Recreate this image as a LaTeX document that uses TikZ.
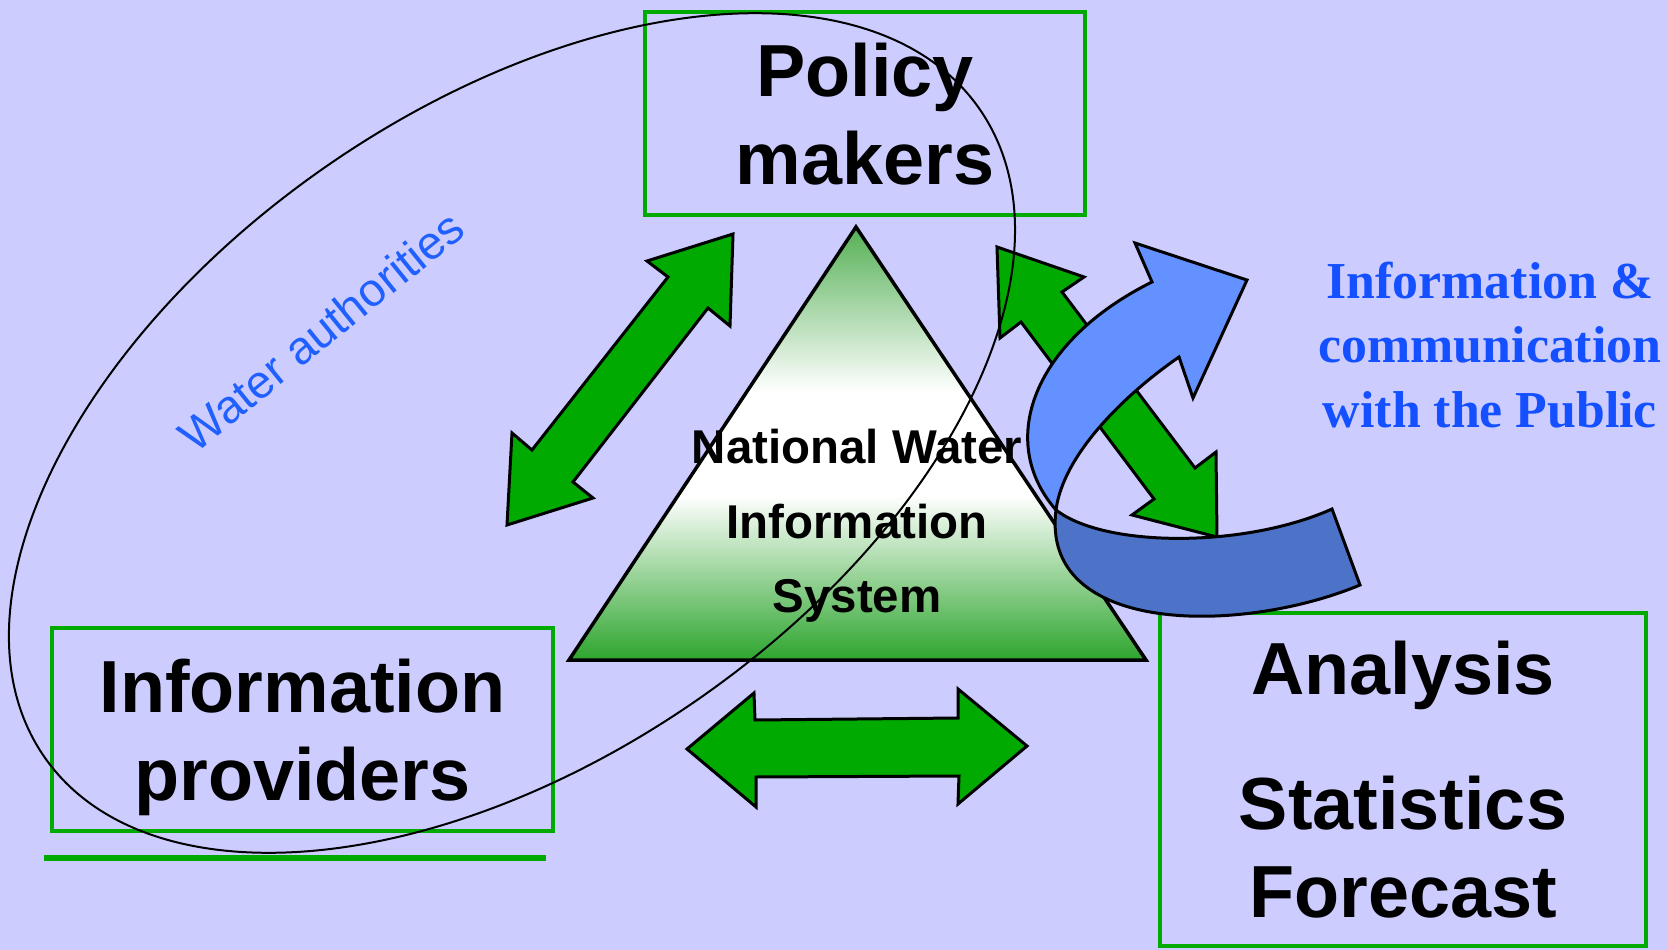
\documentclass[tikz,border=0pt]{standalone}
\usepackage{fontspec}
\setmainfont{Liberation Sans}
\newfontfamily\serifbold{Liberation Serif}
\definecolor{bgpurple}{HTML}{CCCCFF}
\definecolor{boxgreen}{HTML}{00AA00}
\definecolor{arrowgreen}{HTML}{00AA00}
\definecolor{trihigh}{HTML}{55B055}
\definecolor{trilow}{HTML}{2DA52D}
\definecolor{lightblue}{HTML}{6391FF}
\definecolor{darkblue}{HTML}{4D73C9}
\definecolor{publicblue}{HTML}{1450FF}
\definecolor{waterblue}{HTML}{2060FF}
\pgfdeclareverticalshading{nwis}{100bp}{color(0bp)=(trilow); color(25bp)=(trilow); color(44bp)=(white); color(56bp)=(white); color(75bp)=(trihigh); color(100bp)=(trihigh)}

\begin{document}
\begin{tikzpicture}[x=0.02cm, y=-0.02cm,
    box/.style={draw=boxgreen, line width=0.08cm, align=center, text depth=0pt, font=\fontsize{42}{50}\selectfont\bfseries},
    greenarrow/.style={fill=arrowgreen, draw=black, line width=0.06cm},
    bluearrow/.style={draw=black, line width=0.06cm}]
                \coordinate (LT) at (0,0);
                \coordinate (RB) at (1668,950);
                \coordinate (apex) at (856,227);
                \coordinate (baseL) at (569,660);
                \coordinate (baseR) at (1146,660);
                \coordinate (ring) at (512,433);
                \coordinate (twist) at (1056,510);

                \useasboundingbox (LT) rectangle (RB);
                \fill[bgpurple] (LT) rectangle (RB); % background
                \node[box, minimum width=8.8cm, minimum height=4.06cm] (policy) at (865,113.5) {Policy\\makers};
                \node[box, minimum width=10.02cm, minimum height=4.06cm] (providers) at (302.5,729.5) {Information\\providers};
                \node[box, minimum width=9.72cm, minimum height=6.66cm] (analysis) at (1403,779.5) {Analysis\\[27pt]Statistics\\Forecast};
                \draw[boxgreen, line width=0.11cm] (44,858) -- (546,858); % underline

                \draw[shading=nwis, line width=0.07cm] (apex) -- (baseR) -- (baseL) -- cycle; % triangle
                \node[font=\fontsize{27}{42.5}\selectfont\bfseries, align=center, text depth=0pt] (nwis) at (857,521) {National Water\\Information\\System};

                \filldraw[greenarrow] (733,234) -- (647,261) -- (668,277) -- (532,450) -- (512,433) -- (507,525) -- (593,498) -- (573,482) -- (708,308) -- (730,326) -- cycle;
                \filldraw[greenarrow] (997,247) -- (1084,277) -- (1062,292) -- (1195,468) -- (1216,452) -- (1217,537) -- (1132,515) -- (1154,499) -- (1021,322) -- (1000,338) -- cycle;
                \filldraw[greenarrow] (687,749) -- (754,693) -- (755,720) -- (958,718) -- (958,689) -- (1027,746) -- (958,804) -- (959,776) -- (756,777) -- (756,807) -- cycle;

                \draw[line width=0.04cm, rotate around={34.7:(ring)}] (ring) ellipse [x radius=11.38cm, y radius=6.5cm]; % water authorities

                \filldraw[bluearrow, fill=darkblue] (twist) .. controls (1105,548) and (1245,548) .. (1332,509) -- (1360,585) .. controls (1240,635) and (1040,635) .. (twist) -- cycle;
                \filldraw[bluearrow, fill=lightblue] (1152,282) -- (1135,243) -- (1247,280) -- (1193,398) -- (1179,357) .. controls (1124,395) and (1063,455) .. (twist) .. controls (995,440) and (1035,340) .. (1152,282) -- cycle;

                \node[font=\serifbold\fontsize{29.5}{36.6}\selectfont\bfseries, text=publicblue, align=center, text depth=0pt] (public) at (1490,344.5) {Information \&\\communication\\with the Public};
                \node[font=\fontsize{26.5}{30}\selectfont, text=waterblue, rotate=39] (authorities) at (321,331) {Water authorities};
            \end{tikzpicture}
\end{document}
